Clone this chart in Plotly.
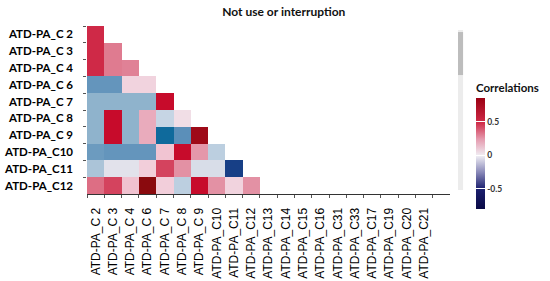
import plotly.graph_objects as go

# row / column labels
rows = ["ATD-PA_C 2", "ATD-PA_C 3", "ATD-PA_C 4", "ATD-PA_C 6", "ATD-PA_C 7",
        "ATD-PA_C 8", "ATD-PA_C 9", "ATD-PA_C10", "ATD-PA_C11", "ATD-PA_C12"]
cols = rows + ["ATD-PA_C13", "ATD-PA_C14", "ATD-PA_C15", "ATD-PA_C16", "ATD-PA_C31",
               "ATD-PA_C33", "ATD-PA_C17", "ATD-PA_C19", "ATD-PA_C20", "ATD-PA_C21"]

# correlation values (lower triangle only)
r_c2 = [0.62]
r_c3 = [0.62, 0.42]
r_c4 = [0.62, 0.42, 0.40]
r_c6 = [-0.38, -0.38, 0.08, 0.08]
r_c7 = [-0.28, -0.28, -0.28, -0.28, 0.75]
r_c8 = [-0.28, 0.75, -0.28, 0.25, -0.12, 0.04]
r_c9 = [-0.28, 0.75, -0.28, 0.25, -0.55, -0.40, 0.85]
r_c10 = [-0.36, -0.38, -0.38, -0.38, 0.14, 0.75, 0.33, -0.15]
r_c11 = [-0.20, -0.04, -0.04, 0.10, 0.55, 0.35, -0.07, -0.07, -0.70]
r_c12 = [0.45, 0.55, 0.15, 0.90, 0.10, -0.15, 0.75, 0.35, 0.08, 0.35]

vals = [r_c2, r_c3, r_c4, r_c6, r_c7, r_c8, r_c9, r_c10, r_c11, r_c12]
z = [v + [None] * (len(cols) - len(v)) for v in vals]

zmin, zmax = -0.8, 0.9
def stop(v):
    return (v - zmin) / (zmax - zmin)

# colours as they show up in the cells
cell_scale = [[stop(-0.8), "#0c2a6a"], [stop(-0.7), "#173f86"], [stop(-0.55), "#0f6a9c"],
              [stop(-0.4), "#5b8fb9"], [stop(-0.28), "#8fb3cc"], [stop(-0.12), "#c6d5e4"],
              [stop(0), "#f0e8ee"], [stop(0.12), "#f2c9d6"], [stop(0.3), "#e6a0b2"],
              [stop(0.42), "#df7b90"], [stop(0.6), "#d02e4b"], [stop(0.75), "#c70b2b"],
              [stop(0.9), "#8a0a0e"]]

# colours as they show up in the legend bar
bar_scale = [[0, "#0a0a45"], [0.18, "#1b1f6e"], [0.33, "#8888b8"], [0.48, "#f0eef4"],
             [0.63, "#e59aae"], [0.78, "#cf2a47"], [1, "#9a0012"]]

fig = go.Figure()

fig.add_trace(go.Heatmap(
    x=cols, y=rows, z=z,
    zmin=zmin, zmax=zmax,
    colorscale=cell_scale,
    showscale=False,
    hoverongaps=False))

# invisible trace only to carry the colour bar
fig.add_trace(go.Scatter(
    x=[None], y=[None], mode="markers", showlegend=False,
    marker=dict(color=[0], cmin=-0.8, cmax=0.86, colorscale=bar_scale, showscale=True,
                colorbar=dict(
                    title=dict(text="Correlations", side="top",
                               font=dict(family="Lato", size=11.5, color="#111", weight="bold")),
                    x=1.0716, xanchor="left", xpad=0,
                    y=0.679, yanchor="top", ypad=0,
                    len=129, lenmode="pixels",
                    thickness=9, outlinewidth=0,
                    tickvals=[-0.5, 0, 0.5], ticktext=["-0.5", "0", "0.5"],
                    ticks="inside", ticklen=9, tickcolor="white", tickwidth=1,
                    tickfont=dict(family="Lato", size=8.5, color="#333", weight="bold")))))

# grey scroll bar at the right side
fig.add_shape(type="rect", xref="paper", yref="paper",
              x0=1.022, x1=1.036, y0=0.024, y1=0.976,
              fillcolor="#ececec", line_width=0, layer="below")
fig.add_shape(type="rect", xref="paper", yref="paper",
              x0=1.022, x1=1.036, y0=0.708, y1=0.964,
              fillcolor="#bdbdbd", line_width=0, layer="below")

fig.update_layout(
    width=550, height=281,
    margin=dict(l=87, r=100, t=26, b=87, autoexpand=False),
    paper_bgcolor="white", plot_bgcolor="white",
    title=dict(text="Not use or interruption", x=0.516, xanchor="center",
               y=0.957, yanchor="middle",
               font=dict(family="Lato", size=12, color="#111", weight="bold")),
    xaxis=dict(type="category", categoryorder="array", categoryarray=cols,
               range=[-0.5, 20.5], tickangle=-90, tickson="boundaries",
               ticks="outside", ticklen=3, tickcolor="#555",
               showline=True, linecolor="#333", linewidth=1, showgrid=False,
               ticklabelstandoff=8, automargin=False,
               tickfont=dict(family="Liberation Sans", size=12, color="black")),
    yaxis=dict(type="category", categoryorder="array", categoryarray=rows,
               autorange="reversed", tickson="boundaries",
               ticks="outside", ticklen=3, tickcolor="#555",
               showline=False, showgrid=False, ticklabelstandoff=13, automargin=False,
               tickfont=dict(family="Lato", size=11.5, color="black", weight="bold")),
)

# page has a default 8px body margin; drop it so the figure sits at the corner
fig.write_html("out.html", config={"displayModeBar": False},
               post_script="document.body.style.margin='0px';")
